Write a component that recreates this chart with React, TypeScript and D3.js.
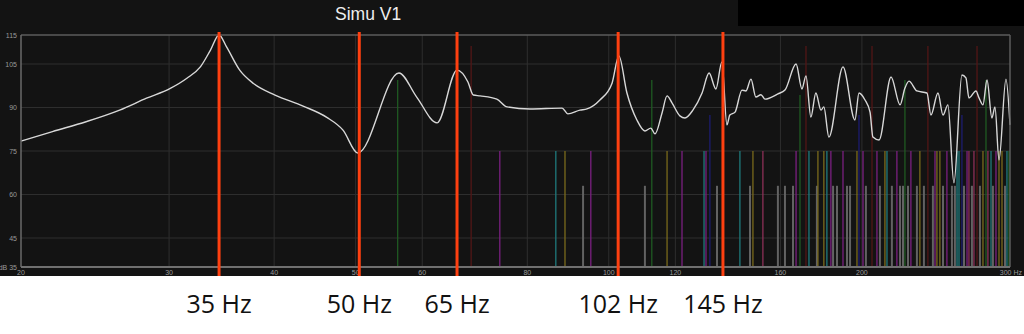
import React from "react";
import * as d3 from "d3";

const W = 1024;
const H = 334;

// Response curve (Hz, dB)
const curveFreq = [
  20, 21.8, 23.9, 26.2, 28.2, 30.1, 31.5, 32.7, 33.6, 34.4, 35.1, 36.4, 37.8, 40.1, 43.3, 46.2, 48.3, 50.3,
  56.3, 59.1, 62.5, 66.0, 68.0, 69.0, 70.3, 73.6, 75.7, 80.6, 88.0, 89.4, 92.4, 94.2, 97.6, 100.9,
  102.8, 105.1, 108.0, 110.4, 112.2, 113.5, 115.7, 117.3, 118.9, 121.5, 123.2, 125.9, 129.1, 131.6,
  134.1, 136.3, 138.2, 139.3, 141.3, 144.0, 145.6, 147.6, 149.6, 151.7, 153.4, 158.9, 162.0, 167.0,
  169.7, 171.6, 173.9, 176.3, 178.8, 180.2, 182.7, 189.9, 196.2, 198.4, 201.7, 204.5, 206.1, 209.6,
  216.6, 222.0, 225.0, 227.5, 232.5, 239.0, 241.6, 246.3, 249.7, 253.1, 257.3, 263.0, 265.9, 268.1,
  273.3, 275.6, 278.6, 281.7, 285.5, 287.9, 291.1, 296.7, 300,
];
const curveDb = [
  78.4, 81.7, 85.1, 89.1, 93.2, 96.6, 100.1, 104.1, 109.8, 115, 111.0, 102.9, 98.3, 94.3, 90.5, 86.6, 82.2, 74.3,
  101.9, 93.6, 84.7, 102.9, 98.8, 94.3, 94.0, 92.9, 90.2, 89.5, 89.8, 87.8, 89.1, 89.5, 92.6, 98.4,
  107.8, 95.0, 85.7, 81.9, 82.9, 80.9, 88.1, 94.0, 91.6, 87.1, 86.4, 89.1, 95.0, 101.9,
  96.4, 105.7, 84.0, 87.4, 88.4, 96.0, 95.7, 99.8, 93.6, 94.4, 92.9, 94.7, 96.0, 105.0,
  96.4, 100.9, 86.7, 95.0, 89.1, 90.2, 79.8, 104.0, 85.7, 95.0, 92.6, 88.4, 79.8, 78.8,
  100.5, 90.9, 96.7, 99.1, 95.7, 95.0, 87.4, 95.0, 87.4, 90.9, 64.0, 101.2, 100.2, 93.3,
  95.7, 93.3, 90.9, 99.5, 86.4, 90.2, 71.9, 99.8, 84.0,
];

// Modal stems (Hz, top level dB, colour key)
const modeFreq = [
  56.1, 68.6, 74.2, 86.5, 88.7, 93.2, 95.2, 110.4, 112.5, 117.3, 122.2, 129.8, 130.5, 131.9, 134.5,
  143.2, 147.2, 148.4, 152.5, 158.9, 162.0, 165.6, 167.0, 168.8, 171.6, 173.0, 176.8, 177.3, 180.2,
  181.7, 183.7, 184.8, 186.8, 189.9, 192.0, 193.6, 197.3, 198.4, 200.6, 202.2, 205.6, 208.4, 210.1,
  213.0, 214.2, 217.1, 220.1, 222.0, 223.8, 225.0, 226.9, 228.7, 232.5, 234.4, 237.0, 239.6, 242.9,
  244.3, 245.6, 247.6, 249.7, 252.4, 255.9, 258.0, 259.5, 260.9, 263.0, 264.5, 266.7, 268.1, 270.3,
  271.8, 274.1, 276.3, 278.6, 280.9, 282.4, 284.8, 286.3, 288.7, 291.1, 293.5, 295.9, 297.5, 299.1,
];
const modeLevel = [
  99.5, 111.2, 75, 75, 75, 63, 75, 63, 99.5, 75, 75, 75, 75, 87.4, 63,
  75, 63, 75, 75, 63, 63, 63, 75, 94.3, 111.2, 75, 63, 75, 75,
  75, 75, 63, 63, 75, 63, 63, 75, 87.4, 75, 63, 111.2, 75, 63,
  75, 75, 63, 75, 63, 63, 99.5, 63, 75, 63, 75, 63, 111.2, 63,
  75, 75, 75, 63, 75, 63, 63, 75, 75, 87.4, 63, 75, 75, 63,
  75, 111.2, 63, 75, 99.5, 75, 75, 63, 75, 75, 75, 63, 75, 75,
];
const modeKind = [
  "green", "darkred", "purple", "teal", "olive", "gray", "purple", "gray", "green", "olive", "purple", "teal", "purple", "blue", "gray",
  "teal", "gray", "olive", "pink", "gray", "gray", "gray", "purple", "green", "darkred", "teal", "gray", "olive", "olive",
  "teal", "purple", "gray", "gray", "purple", "gray", "gray", "olive", "blue", "purple", "gray", "darkred", "purple", "gray",
  "olive", "teal", "gray", "purple", "gray", "gray", "green", "gray", "purple", "gray", "olive", "gray", "darkred", "gray",
  "purple", "olive", "olive", "gray", "purple", "gray", "gray", "teal", "teal", "blue", "gray", "purple", "pink", "gray",
  "pink", "darkred", "gray", "olive", "green", "pink", "teal", "gray", "purple", "olive", "olive", "gray", "teal", "green",
];

const kindColor: Record<string, string> = {
  green: "#1f5a22",
  darkred: "#521616",
  purple: "#7a2080",
  teal: "#1f7a7c",
  olive: "#7a6a1c",
  pink: "#8c3058",
  blue: "#1c1c70",
  gray: "#626262",
};

// Axes
const xTicks = [20, 30, 40, 50, 60, 80, 100, 120, 160, 200];
const xGrid = [30, 40, 50, 60, 80, 100, 120, 160, 200];
const yTicks = [115, 105, 90, 75, 60, 45];
const yGrid = [105, 90, 75, 60, 45];

// Marked resonances
const markerFreq = [34.4, 50.5, 66.0, 102.6, 136.7];
const markerLabel = ["35 Hz", "50 Hz", "65 Hz", "102 Hz", "145 Hz"];

const title = "Simu V1";

export default function App() {
  const left = 21, right = 1010, top = 35, bottom = 267;
  const x = d3.scaleLog().domain([20, 300]).range([left, right]);
  const y = d3.scaleLinear().domain([35, 115]).range([bottom, top]);

  const pts: [number, number][] = curveFreq.map((f, i) => [x(f), y(curveDb[i])]);
  const line = d3.line().curve(d3.curveMonotoneX)(pts) || "";

  const labFont = "'Liberation Sans', Arial, sans-serif";

  return (
    <>
      <style>{"body{margin:0;background:#fff}"}</style>
      <svg width={W} height={H} style={{ display: "block" }}>
        <rect x={0} y={0} width={W} height={H} fill="#ffffff" />
        <rect x={0} y={0} width={W} height={276} fill="#131313" />
        <rect x={738} y={0} width={W - 738} height={26} fill="#000000" />
        <text x={335} y={20} fontFamily={labFont} fontSize={17.5} fill="#eeeeee">{title}</text>

        {yGrid.map((v) => (
          <line key={"yg" + v} x1={left} x2={right} y1={y(v)} y2={y(v)} stroke="#2e2e2e" strokeWidth={1} />
        ))}
        {xGrid.map((v) => (
          <line key={"xg" + v} x1={x(v)} x2={x(v)} y1={top} y2={bottom} stroke="#2e2e2e" strokeWidth={1} />
        ))}

        {modeFreq.map((f, i) => (
          <line
            key={"m" + i}
            x1={x(f)}
            x2={x(f)}
            y1={bottom}
            y2={y(modeLevel[i])}
            stroke={kindColor[modeKind[i]]}
            strokeWidth={modeKind[i] === "gray" ? 2 : 1.3}
          />
        ))}

        <path d={line} fill="none" stroke="#d8d8d8" strokeWidth={1.4} />

        <line x1={left} x2={right} y1={top} y2={top} stroke="#5c5c5c" strokeWidth={1.5} />
        <line x1={right} x2={right} y1={top} y2={bottom} stroke="#5c5c5c" strokeWidth={1.5} />
        <line x1={left} x2={left} y1={top} y2={bottom} stroke="#6a6a6a" strokeWidth={1.5} />
        <line x1={left} x2={right} y1={bottom} y2={bottom} stroke="#707070" strokeWidth={2} />

        {yTicks.map((v) => (
          <text key={"yt" + v} x={17} y={y(v) + 2.5} textAnchor="end" fontFamily={labFont} fontSize={7} fill="#9a9a9a">{v}</text>
        ))}
        <text x={17} y={bottom + 2.5} textAnchor="end" fontFamily={labFont} fontSize={7} fill="#9a9a9a">dB 35</text>
        {xTicks.map((v) => (
          <text key={"xt" + v} x={x(v)} y={275} textAnchor="middle" fontFamily={labFont} fontSize={7} fill="#9a9a9a">{v}</text>
        ))}
        <text x={1022} y={275} textAnchor="end" fontFamily={labFont} fontSize={7} fill="#9a9a9a">300 Hz</text>

        {markerFreq.map((f, i) => (
          <line key={"mk" + i} x1={x(f)} x2={x(f)} y1={32} y2={276} stroke="#ff4010" strokeWidth={3} />
        ))}
        {markerFreq.map((f, i) => (
          <text key={"ml" + i} x={x(f)} y={313} textAnchor="middle" fontFamily="'Open Sans', 'Noto Sans', sans-serif" fontSize={25} fill="#111111">{markerLabel[i]}</text>
        ))}
      </svg>
    </>
  );
}
